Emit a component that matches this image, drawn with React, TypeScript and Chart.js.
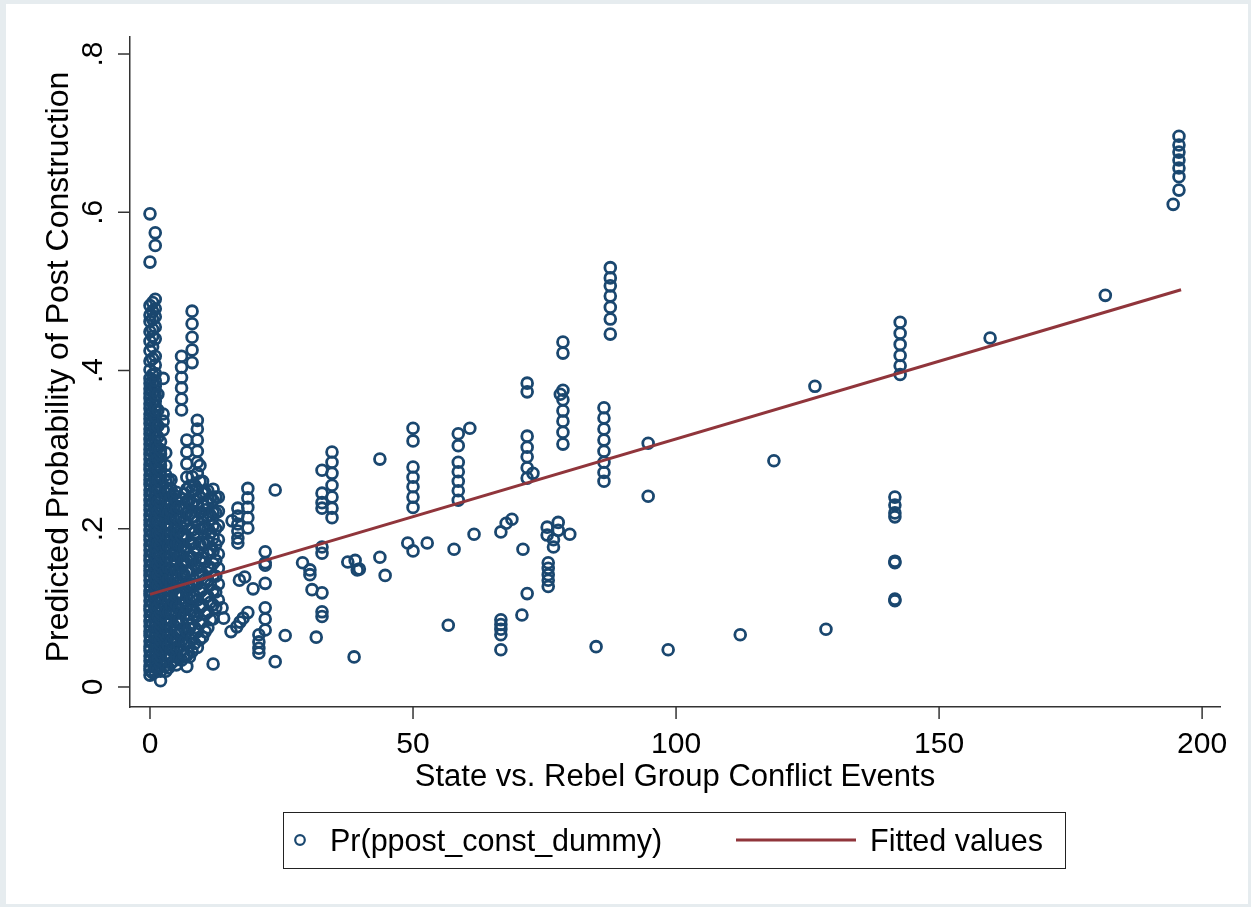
import React, { useEffect, useRef } from "react";
import { Chart, registerables } from "chart.js";

Chart.register(...registerables);

// ---- Data ----
// Dense columns near zero conflict events: x value and predicted probabilities
const c0 = [.015,.021,.026,.033,.039,.046,.051,.058,.065,.07,.077,.083,.09,.097,.102,.109,.116,.121,.128,.135,.141,.147,.153,.16,.166,.173,.179,.186,.191,.198,.205,.211,.217,.224,.23,.236,.243,.249,.256,.262,.268,.275,.281,.288,.294,.3,.307,.313,.32,.326,.333,.339,.345,.352,.358,.365,.371,.377,.384,.39,.401,.412,.425,.437,.449,.462,.47,.482,.537,.598];
const c0b = [.018,.03,.042,.055,.068,.08,.093,.106,.118,.131,.144,.156,.169,.182,.194,.207,.22,.232,.245,.258,.27,.283,.296,.308,.321,.334,.346,.359,.372,.384,.395,.415,.43,.443,.452,.465,.475,.486];
const c1 = [.019,.025,.031,.038,.044,.05,.057,.063,.069,.076,.082,.088,.095,.101,.108,.114,.12,.127,.133,.139,.146,.152,.158,.165,.171,.177,.184,.19,.196,.203,.209,.215,.222,.228,.234,.241,.247,.253,.26,.266,.272,.279,.285,.291,.298,.304,.31,.317,.323,.329,.336,.342,.349,.355,.361,.368,.374,.38,.387,.396,.407,.418,.44,.455,.468,.478,.49,.558,.574];
const c1b = [.022,.036,.049,.062,.075,.089,.102,.115,.129,.142,.155,.169,.182,.195,.209,.222,.235,.249,.262,.275,.289,.302,.316,.33,.35,.37];
const c2 = [.008,.02,.027,.034,.04,.047,.054,.06,.067,.074,.08,.087,.094,.1,.107,.114,.12,.127,.134,.14,.147,.154,.16,.167,.174,.18,.187,.194,.2,.207,.214,.22,.227,.234,.24,.247,.254,.26,.267,.274,.28,.287,.294,.3,.31];
const c2b = [.325,.336,.345,.39];
const c3 = [.02,.027,.035,.042,.05,.057,.065,.072,.08,.087,.095,.102,.11,.117,.125,.132,.14,.147,.155,.162,.17,.177,.185,.192,.2,.207,.215,.222,.23,.237,.245,.252,.26,.268,.28,.296];
const c3b = [.024,.038,.052,.066,.08,.094,.108,.122,.136,.15,.164,.178,.192,.206,.22,.234,.248,.262];
const c4 = [.03,.039,.048,.057,.066,.075,.084,.094,.103,.112,.121,.13,.14,.149,.158,.167,.176,.186,.195,.204,.213,.222,.232,.241,.25,.262];
const c4b = [.033,.048,.063,.078,.093,.108,.123,.138,.153,.168,.183,.198,.213,.228,.243];
const c5 = [.028,.038,.049,.06,.071,.082,.093,.104,.115,.126,.137,.148,.159,.17,.181,.192,.203,.214,.225,.236,.246];
const c5b = [.036,.052,.068,.084,.1,.116,.132,.148,.164,.18,.196,.212,.228];
const c6 = [.034,.046,.058,.07,.082,.094,.106,.118,.13,.142,.154,.166,.178,.19,.202,.214,.226,.238,.35,.364,.378,.391,.404,.418];
const c6b = [.04,.057,.074,.091,.108,.125,.142,.159,.176,.193,.21,.227,.244];
const c7 = [.026,.04,.055,.07,.085,.1,.115,.13,.145,.16,.175,.19,.205,.22,.235,.25,.265,.282,.297,.312];
const c7b = [.038,.056,.074,.092,.11,.128,.146,.164,.182,.2,.218,.236,.254];
const c8 = [.045,.062,.079,.096,.113,.13,.147,.164,.181,.198,.215,.232,.249,.266,.41,.426,.442,.459,.475];
const c8b = [.055,.075,.095,.115,.135,.155,.175,.195,.215,.235,.255];
const c9 = [.05,.07,.09,.11,.13,.15,.17,.19,.21,.23,.25,.27,.284,.298,.312,.326,.337];
const c9b = [.06,.08,.1,.12,.14,.16,.18,.2,.22,.24,.26,.28];
const c10 = [.063,.083,.103,.123,.143,.163,.183,.2,.215,.23,.245,.26];
const c10b = [.07,.092,.114,.136,.158,.18,.202,.224,.246];
const c11 = [.075,.095,.115,.135,.152,.168,.184,.2,.216,.232,.248];
const c11b = [.085,.107,.129,.151,.173,.195,.217,.239];
const c12 = [.029,.086,.104,.122,.14,.156,.172,.188,.204,.22,.236,.25];
const c12b = [.1,.12,.14,.16,.18,.2,.22,.24];
const c13 = [.11,.13,.15,.168,.186,.204,.222,.24];

const columnX = [0, 0.5, 1, 1.5, 2, 2.5, 3, 3.5, 4, 4.5, 5, 5.5, 6, 6.5, 7, 7.5, 8, 8.5, 9, 9.5, 10, 10.5, 11, 11.5, 12, 12.5, 13];
const columnY = [c0, c0b, c1, c1b, c2, c2b, c3, c3b, c4, c4b, c5, c5b, c6, c6b, c7, c7b, c8, c8b, c9, c9b, c10, c10b, c11, c11b, c12, c12b, c13];

// Scattered observations [events, predicted probability]
const scatteredPts: [number, number][] = [
  [15.4,.07],[16.5,.076],[17.1,.082],[17.7,.087],[18.6,.094],[14,.087],[13.7,.1],
  [20.7,.066],[20.7,.057],[20.7,.049],[20.7,.043],
  [21.9,.1],[21.9,.086],[21.9,.072],
  [23.8,.032],[25.7,.065],[31.6,.063],[32.7,.095],[32.7,.089],[32.7,.119],[30.8,.123],[38.8,.038],
  [17,.135],[18,.139],[19.6,.124],[21.9,.154],[21.9,.131],[21.9,.171],[21.9,.157],
  [29,.157],[30.4,.148],[30.4,.142],[37.6,.158],[39.4,.148],
  [18.6,.251],[18.6,.239],[18.6,.227],[18.6,.214],[18.6,.201],
  [16.7,.226],[16.7,.216],[16.7,.206],[16.7,.197],[16.7,.188],[16.7,.182],
  [15.6,.21],[23.8,.249],
  [34.6,.297],[34.6,.284],[34.6,.27],[34.6,.255],[34.6,.24],[34.6,.226],[34.6,.214],
  [32.7,.274],[32.7,.245],[32.7,.233],[32.7,.226],[32.7,.177],[32.7,.169],
  [43.7,.288],
  [50,.327],[50,.311],[50,.278],[50,.265],[50,.253],[50,.24],[50,.227],[50,.172],[49,.182],
  [58.6,.32],[58.6,.305],[58.6,.284],[58.6,.272],[58.6,.26],[58.6,.248],[58.6,.236],
  [60.8,.327],
  [39,.16],[39.8,.149],[43.7,.164],[44.7,.141],[52.7,.182],[57.8,.174],[61.6,.193],
  [66.7,.196],[67.7,.207],[68.8,.212],[70.9,.174],
  [75.5,.202],[77.6,.208],[75.5,.192],[77.6,.198],[76.7,.186],[76.7,.177],[79.8,.193],
  [75.7,.157],[75.7,.15],[75.7,.142],[75.7,.135],[75.7,.127],
  [71.7,.118],[70.7,.091],[56.7,.078],
  [66.7,.085],[66.7,.079],[66.7,.073],[66.7,.066],[66.7,.047],
  [84.8,.051],[98.5,.047],[112.2,.066],[128.5,.073],
  [94.7,.308],[94.7,.241],[118.6,.286],[126.4,.38],[159.7,.441],[181.6,.495],
  [195.6,.696],[195.6,.685],[195.6,.676],[195.6,.666],[195.6,.656],[195.6,.645],[195.6,.628],[194.5,.61],
  [142.6,.461],[142.6,.447],[142.6,.433],[142.6,.419],[142.6,.406],[142.6,.395],
  [141.6,.24],[141.6,.23],[141.6,.22],[141.6,.215],[141.6,.159],[141.6,.157],[141.6,.111],[141.6,.109],
  [87.5,.53],[87.5,.517],[87.5,.507],[87.5,.494],[87.5,.48],[87.5,.465],[87.5,.446],
  [86.3,.353],[86.3,.34],[86.3,.326],[86.3,.312],[86.3,.298],[86.3,.284],[86.3,.271],[86.3,.26],
  [78.5,.436],[78.5,.422],[78.5,.375],[78.5,.363],[78.5,.349],[78.5,.336],[78.5,.322],[78.5,.307],
  [78,.37],
  [71.7,.384],[71.7,.373],[71.7,.317],[71.7,.303],[71.7,.291],[71.7,.277],[71.7,.264],
  [72.8,.27],
];

// Fitted values (linear fit)
const fitX = [0, 196];
const fitY = [0.117, 0.502];

const xTicks = [0, 50, 100, 150, 200];
const yTicks = [0, 0.2, 0.4, 0.6, 0.8];
const yTickLabels = ["0", ".2", ".4", ".6", ".8"];

const xTitle = "State vs. Rebel Group Conflict Events";
const yTitle = "Predicted Probability of Post Construction";
const legendScatter = "Pr(ppost_const_dummy)";
const legendFit = "Fitted values";

const NAVY = "#1a476f";
const MAROON = "#90353b";
const AXIS = "#333333";
const FONT = "'Liberation Sans', Arial, sans-serif";

export default function App() {
  const ref = useRef<HTMLCanvasElement>(null);

  useEffect(() => {
    const canvas = ref.current;
    if (!canvas) return;

    const pts: { x: number; y: number }[] = [];
    columnX.forEach((x, i) => columnY[i].forEach((y) => pts.push({ x, y })));
    scatteredPts.forEach(([x, y]) => pts.push({ x, y }));
    const fitPts = fitX.map((x, i) => ({ x, y: fitY[i] }));

    const decor = {
      id: "decor",
      beforeDraw(chart: any) {
        const ctx = chart.ctx;
        ctx.save();
        ctx.fillStyle = "#e6ecef";
        ctx.fillRect(0, 0, chart.width, chart.height);
        ctx.fillStyle = "#ffffff";
        ctx.fillRect(6, 4, chart.width - 9, chart.height - 7);
        ctx.restore();
      },
      afterDraw(chart: any) {
        const ctx = chart.ctx;
        const xs = chart.scales.x;
        const ys = chart.scales.y;
        const area = chart.chartArea;
        ctx.save();
        ctx.strokeStyle = AXIS;
        ctx.lineWidth = 1.5;
        ctx.fillStyle = "#000";
        // x ticks
        ctx.font = `30px ${FONT}`;
        ctx.textAlign = "center";
        ctx.textBaseline = "alphabetic";
        xTicks.forEach((v) => {
          const px = xs.getPixelForValue(v);
          ctx.beginPath();
          ctx.moveTo(px, area.bottom);
          ctx.lineTo(px, area.bottom + 12);
          ctx.stroke();
          ctx.fillText(String(v), px, 753);
        });
        // y ticks
        yTicks.forEach((v, i) => {
          const py = ys.getPixelForValue(v);
          ctx.beginPath();
          ctx.moveTo(area.left, py);
          ctx.lineTo(area.left - 12, py);
          ctx.stroke();
          ctx.save();
          ctx.translate(102, py);
          ctx.rotate(-Math.PI / 2);
          ctx.fillText(yTickLabels[i], 0, 0);
          ctx.restore();
        });
        // axis titles
        ctx.font = `31px ${FONT}`;
        ctx.fillText(xTitle, (area.left + area.right) / 2, 786);
        ctx.font = `32px ${FONT}`;
        ctx.save();
        ctx.translate(68, 367);
        ctx.rotate(-Math.PI / 2);
        ctx.fillText(yTitle, 0, 0);
        ctx.restore();
        // legend
        ctx.lineWidth = 1;
        ctx.strokeStyle = "#222";
        ctx.strokeRect(283.5, 812.5, 782, 56);
        ctx.beginPath();
        ctx.arc(300, 840, 4.8, 0, Math.PI * 2);
        ctx.strokeStyle = NAVY;
        ctx.lineWidth = 2.2;
        ctx.stroke();
        ctx.beginPath();
        ctx.moveTo(736, 840);
        ctx.lineTo(856, 840);
        ctx.strokeStyle = MAROON;
        ctx.lineWidth = 3;
        ctx.stroke();
        ctx.font = `30.5px ${FONT}`;
        ctx.textAlign = "left";
        ctx.fillStyle = "#000";
        ctx.fillText(legendScatter, 330, 851);
        ctx.fillText(legendFit, 870, 851);
        ctx.restore();
      },
    };

    const chart = new Chart(canvas, {
      type: "scatter",
      data: {
        datasets: [
          {
            label: legendFit,
            data: fitPts,
            showLine: true,
            borderColor: MAROON,
            borderWidth: 3,
            pointRadius: 0,
            fill: false,
          } as any,
          {
            label: legendScatter,
            data: pts,
            pointRadius: 5.4,
            pointBorderWidth: 2.8,
            pointBorderColor: NAVY,
            pointBackgroundColor: "rgba(0,0,0,0)",
            borderWidth: 2.8,
            borderColor: NAVY,
            backgroundColor: "rgba(0,0,0,0)",
          } as any,
        ],
      },
      options: {
        responsive: false,
        animation: false,
        events: [],
        layout: { padding: { left: 130, right: 31, top: 37, bottom: 200 } },
        plugins: { legend: { display: false }, tooltip: { enabled: false }, title: { display: false } },
        scales: {
          x: {
            type: "linear",
            min: -3.8,
            max: 203.4,
            ticks: { display: false },
            grid: { display: false, drawTicks: false },
            border: { display: true, color: AXIS, width: 1.5 },
            afterFit: (s: any) => { s.height = 0; },
          },
          y: {
            type: "linear",
            min: -0.0253,
            max: 0.8215,
            ticks: { display: false },
            grid: { display: false, drawTicks: false },
            border: { display: true, color: AXIS, width: 1.5 },
            afterFit: (s: any) => { s.width = 0; },
          },
        },
      } as any,
      plugins: [decor],
    });
    return () => chart.destroy();
  }, []);

  return (
    <div style={{ position: "absolute", left: 0, top: 0, width: 1251, height: 907 }}>
      <canvas ref={ref} width={1251} height={907} style={{ width: 1251, height: 907, display: "block" }} />
    </div>
  );
}
